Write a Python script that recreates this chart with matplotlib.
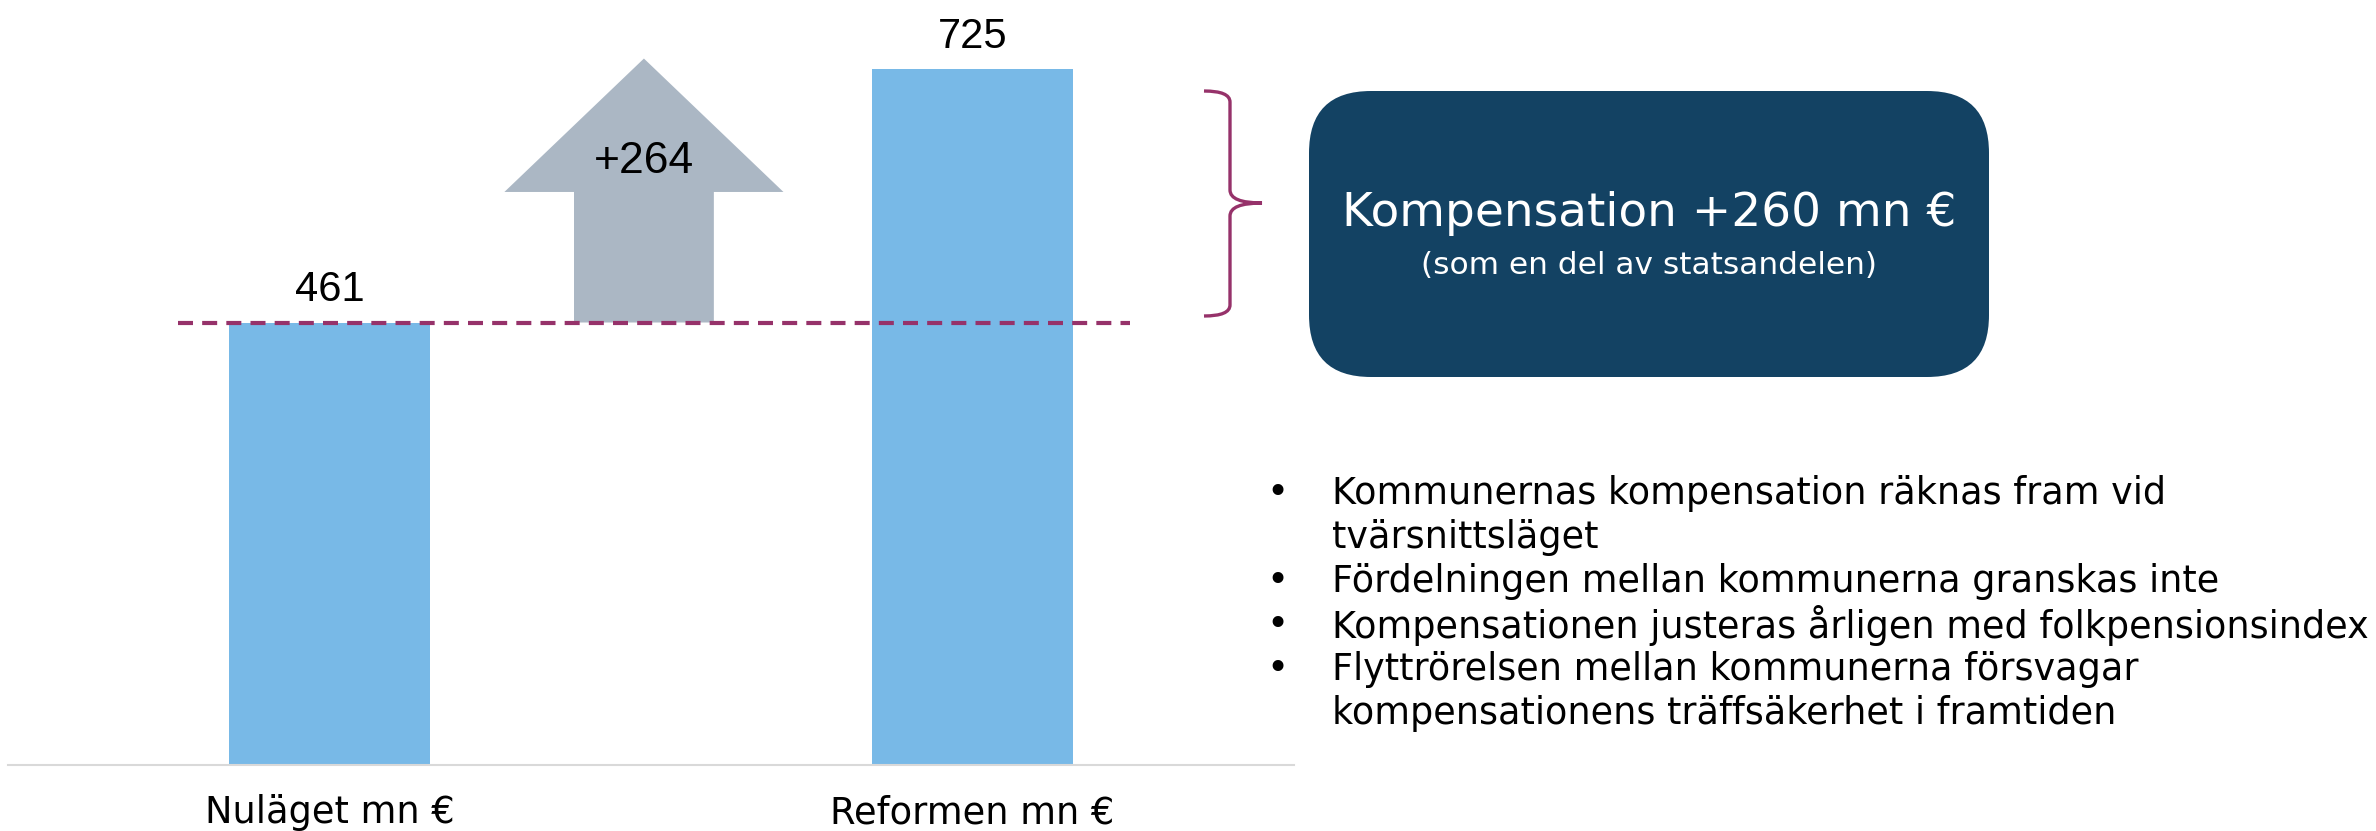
import matplotlib
matplotlib.use("Agg")
import matplotlib.pyplot as plt
from matplotlib.patches import Polygon, FancyBboxPatch, PathPatch
from matplotlib.path import Path

# data
categories = ['Nuläget mn €', 'Reformen mn €']
values = [461, 725]
change_label = '+264'
box_title = 'Kompensation +260 mn €'
box_sub = '(som en del av statsandelen)'
bullets = [
    'Kommunernas kompensation räknas fram vid\ntvärsnittsläget',
    'Fördelningen mellan kommunerna granskas inte',
    'Kompensationen justeras årligen med folkpensionsindex',
    'Flyttrörelsen mellan kommunerna försvagar\nkompensationens träffsäkerhet i framtiden',
]

BAR = '#78B9E7'
ARROW = '#ABB7C4'
PURPLE = '#96326A'
NAVY = '#134263'
NUM_FONT = ['Liberation Sans', 'DejaVu Sans']

plt.rcParams['font.family'] = ['DejaVu Sans']

fig = plt.figure(figsize=(23.76, 8.31), dpi=100)

# -------------------------------
# bar chart
# -------------------------------
ax = fig.add_axes([8 / 2376, 66 / 831, 1286 / 2376, 765 / 831])
xpos = [0, 2]
ax.bar(xpos, values, width=0.625, color=BAR, zorder=2)
ax.set_xlim(-1, 3)
ax.set_ylim(0, 797)
ax.set_yticks([])
ax.set_xticks(xpos, categories, fontsize=26.5)
ax.tick_params(axis='x', length=0, pad=21)
for s in ['left', 'right', 'top']:
    ax.spines[s].set_visible(False)
ax.spines['bottom'].set_color('#D9D9D9')
ax.spines['bottom'].set_linewidth(1.5)

for x, v in zip(xpos, values):
    ax.annotate(str(v), (x, v), xytext=(0, 9), textcoords='offset points',
                ha='center', va='bottom', fontsize=30, family=NUM_FONT)

# arrow showing the change
ac = 0.978
base, top = values[0], values[1] + 11
head = top - 139
sw, hw = 0.2175, 0.434
arrow = Polygon([(ac - sw, base), (ac - sw, head), (ac - hw, head), (ac, top),
                 (ac + hw, head), (ac + sw, head), (ac + sw, base)],
                closed=True, facecolor=ARROW, edgecolor='none', zorder=2)
ax.add_patch(arrow)
ax.text(ac, 629, change_label, ha='center', va='center', fontsize=32,
        family=NUM_FONT, zorder=3)

ax.plot([-0.47, 2.49], [values[0], values[0]], color=PURPLE, lw=3,
        dashes=(3.6, 2.2), zorder=3)

# -------------------------------
# right-hand panel (pixel coords)
# -------------------------------
ov = fig.add_axes([0, 0, 1, 1])
ov.set_xlim(0, 2376)
ov.set_ylim(831, 0)
ov.axis('off')
ov.patch.set_visible(False)

verts = [(1204, 91), (1230, 91), (1230, 102), (1230, 190), (1230, 203), (1262, 203),
         (1230, 203), (1230, 216), (1230, 305), (1230, 316), (1204, 316)]
codes = [Path.MOVETO, Path.CURVE3, Path.CURVE3, Path.LINETO, Path.CURVE3, Path.CURVE3,
         Path.CURVE3, Path.CURVE3, Path.LINETO, Path.CURVE3, Path.CURVE3]
ov.add_patch(PathPatch(Path(verts, codes), facecolor='none', edgecolor=PURPLE, lw=2.4))

r = 62
bx0, by0, bx1, by1 = 1309, 91, 1989, 377
ov.add_patch(FancyBboxPatch((bx0 + r, by0 + r), bx1 - bx0 - 2 * r, by1 - by0 - 2 * r,
                            boxstyle=f'round,pad={r},rounding_size={r}',
                            facecolor=NAVY, edgecolor='none'))
ov.text((bx0 + bx1) / 2, 213, box_title, ha='center', va='center',
        color='white', fontsize=33.8)
ov.text((bx0 + bx1) / 2, 265, box_sub, ha='center', va='center',
        color='white', fontsize=22.5)

line_h = 44
y = 494
for b in bullets:
    ov.text(1277, y, '•', ha='center', va='center', fontsize=27)
    for ln in b.split('\n'):
        ov.text(1332, y, ln, ha='left', va='center', fontsize=26.3)
        y += line_h

fig.savefig('out.png', dpi=100)
